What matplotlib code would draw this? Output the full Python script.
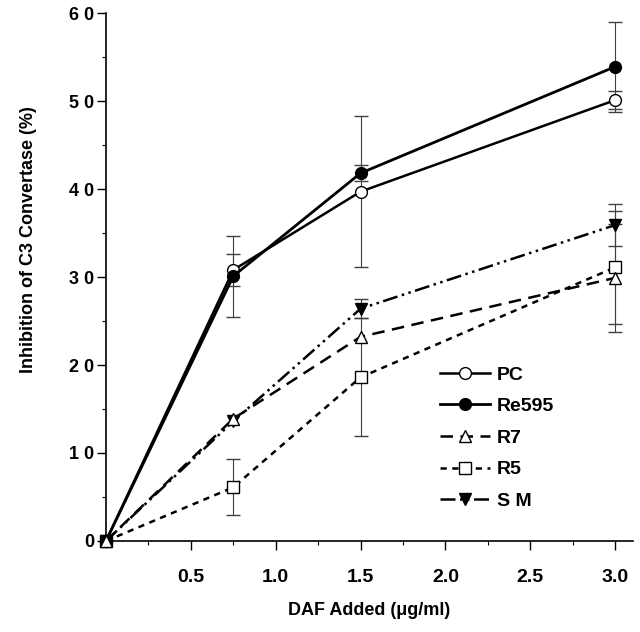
import numpy as np
import matplotlib
matplotlib.use("Agg")
import matplotlib.pyplot as plt

plt.rcParams['font.family'] = ['Liberation Sans', 'DejaVu Sans']
plt.rcParams['font.weight'] = 'bold'

# data
daf = [0, 0.75, 1.5, 3.0]
pc = [0, 30.8, 39.7, 50.1]
pc_err = [0, 1.8, 8.6, 1.0]
re595 = [0, 30.1, 41.8, 53.9]
re595_err = [0, 4.6, 0.9, 5.1]
r7 = [0, 13.9, 23.2, 29.9]
r7_err = [0, 0, 0, 6.1]
r5 = [0, 6.1, 18.6, 31.1]
r5_err = [0, 3.2, 6.7, 6.4]
sm = [0, 13.6, 26.4, 35.9]
sm_err = [0, 0, 1.1, 2.4]

xticks_major = [0.5, 1.0, 1.5, 2.0, 2.5, 3.0]
xtick_labels = ['0.5', '1.0', '1.5', '2.0', '2.5', '3.0']
yticks_major = [0, 10, 20, 30, 40, 50, 60]
ytick_labels = ['0', '1 0', '2 0', '3 0', '4 0', '5 0', '6 0']

fig = plt.figure(figsize=(6.4, 6.32), dpi=100)
ax = fig.add_axes([0.1656, 0.144, 0.8234, 0.8354])

series = [
    ('PC', pc, pc_err, 4, dict(ls='-', marker='o', mfc='white', lw=1.8)),
    ('Re595', re595, re595_err, 4, dict(ls='-', marker='o', mfc='black', lw=2.0)),
    ('R7', r7, r7_err, 4, dict(ls=(0, (5, 3)), marker='^', mfc='white', lw=1.8)),
    ('R5', r5, r5_err, 3, dict(ls=(0, (2.5, 2.2)), marker='s', mfc='white', lw=1.8)),
    ('S M', sm, sm_err, 3, dict(ls=(0, (6, 1.8, 1, 1.8, 1, 1.8)), marker='v', mfc='black', lw=1.8)),
]

# error bars (thin, drawn underneath)
for name, y, e, z, st in series:
    e = np.array(e)
    m = e > 0
    ax.errorbar(np.array(daf)[m], np.array(y)[m], yerr=e[m], fmt='none',
                ecolor='0.25', elinewidth=0.8, capsize=5, capthick=1.0, zorder=2)

for name, y, e, z, st in series:
    ax.plot(daf, y, color='black', mec='black', ms=8.5, mew=1.0,
            label=name, clip_on=False, zorder=z, **st)

ax.set_xlim(0, 3.105)
ax.set_ylim(0, 60)

ax.set_xticks(xticks_major)
ax.set_xticklabels(xtick_labels)
ax.set_xticks(np.arange(0.25, 3.01, 0.25), minor=True)
ax.set_yticks(yticks_major)
ax.set_yticklabels(ytick_labels)
ax.set_yticks(np.arange(5, 60, 10), minor=True)

ax.tick_params(axis='both', which='major', direction='out', length=6.5, width=1.0,
               labelsize=13)
ax.tick_params(axis='both', which='minor', direction='out', length=3, width=0.8)
ax.tick_params(axis='x', which='major', pad=14, labelsize=14)
ax.tick_params(axis='y', which='major', pad=2)

for side in ['top', 'right']:
    ax.spines[side].set_visible(False)
for side in ['left', 'bottom']:
    ax.spines[side].set_linewidth(1.2)

ax.set_xlabel('DAF Added (\u03bcg/ml)', fontsize=13, fontweight='bold', labelpad=11)
ax.set_ylabel('Inhibition of C3 Convertase (%)', fontsize=13, fontweight='bold')
ax.yaxis.set_label_coords(-0.13, 0.57)

leg = ax.legend(loc='upper left', bbox_to_anchor=(0.615, 0.35), frameon=False,
                fontsize=14, handlelength=2.6, labelspacing=0.72, borderpad=0,
                handletextpad=0.35)
for t in leg.get_texts():
    t.set_fontweight('bold')

fig.savefig('out.png', dpi=100)
